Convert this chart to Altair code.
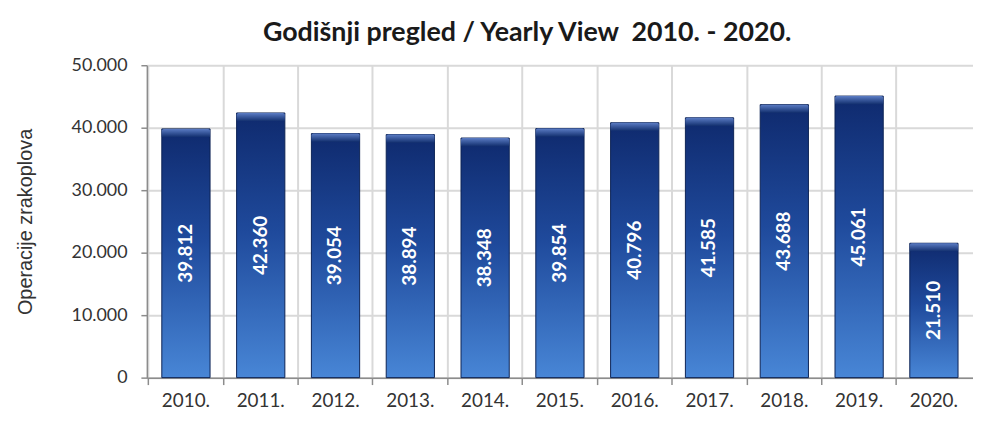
import altair as alt
import pandas as pd

years = ["2010.", "2011.", "2012.", "2013.", "2014.", "2015.", "2016.", "2017.", "2018.", "2019.", "2020."]
operations = [39812, 42360, 39054, 38894, 38348, 39854, 40796, 41585, 43688, 45061, 21510]
y_ticks = [0, 10000, 20000, 30000, 40000, 50000]

df = pd.DataFrame({"year": years, "ops": operations})

x_enc = alt.X("year:N", sort=years, title=None,
              scale=alt.Scale(paddingInner=0.355, paddingOuter=0.2),
              axis=alt.Axis(bandPosition=-0.275, labelAngle=0, labelFont="Lato", labelFontSize=19,
                            labelColor="#333333", labelPadding=7, tickSize=7, tickColor="#8c8c8c",
                            domainColor="#8c8c8c", domainWidth=1.5, tickWidth=1.5,
                            grid=True, gridColor="#d9d9d9", gridWidth=2))
y_scale = alt.Scale(domain=[0, 50000])

grad = alt.Gradient(gradient="linear", x1=0, y1=0, x2=0, y2=1,
                    stops=[alt.GradientStop(color="#0f2a6e", offset=0),
                           alt.GradientStop(color="#1f4a9c", offset=0.45),
                           alt.GradientStop(color="#4886d6", offset=1)])
bevel = alt.Gradient(gradient="linear", x1=0, y1=0, x2=0, y2=1,
                     stops=[alt.GradientStop(color="#5b7cc4", offset=0),
                            alt.GradientStop(color="#13306f", offset=1)])

base = alt.Chart(df)

bars = base.mark_bar(color=grad, stroke="#0c2254", strokeWidth=1).encode(
    x=x_enc,
    y=alt.Y("ops:Q", scale=y_scale, title="Operacije zrakoplova",
            axis=alt.Axis(values=y_ticks, labelExpr="replace(format(datum.value, ','), ',', '.')",
                          labelFont="Lato", labelFontSize=18, labelColor="#333333", labelPadding=14,
                          tickSize=6, tickColor="#8c8c8c", tickWidth=1.5,
                          domainColor="#8c8c8c", domainWidth=1.5,
                          gridColor="#d9d9d9", gridWidth=2,
                          titleFont="Liberation Sans", titleFontSize=20, titleFontWeight="normal",
                          titleColor="#333333", titlePadding=36)),
)

tops = base.transform_calculate(top2="datum.ops - 1300").mark_bar(color=bevel, cornerRadiusTopLeft=2,
                                                                   cornerRadiusTopRight=2).encode(
    x=alt.X("year:N", sort=years),
    y=alt.Y("ops:Q", scale=y_scale),
    y2="top2:Q",
)

labels = base.transform_calculate(
    half="datum.ops / 2",
    lbl="replace(format(datum.ops, ','), ',', '.')"
).mark_text(angle=270, color="white", font="Lato", fontWeight="bold", fontSize=19,
            align="center", baseline="middle").encode(
    x=alt.X("year:N", sort=years),
    y=alt.Y("half:Q", scale=y_scale),
    text="lbl:N",
)

chart = alt.layer(bars, tops, labels).properties(
    width=833, height=315,
    title=alt.TitleParams("Godišnji pregled / Yearly View\u00a0\u00a02010. - 2020.", font="Lato", fontSize=27,
                          fontWeight="bold", color="#1a1a1a", anchor="middle", dx=-33, offset=9),
    autosize=alt.AutoSizeParams(type="none"),
    padding={"left": 140, "top": 56, "right": 0, "bottom": 40},
).configure_view(strokeWidth=0)

chart.save("out.html", embed_options={"renderer": "svg", "actions": False})
